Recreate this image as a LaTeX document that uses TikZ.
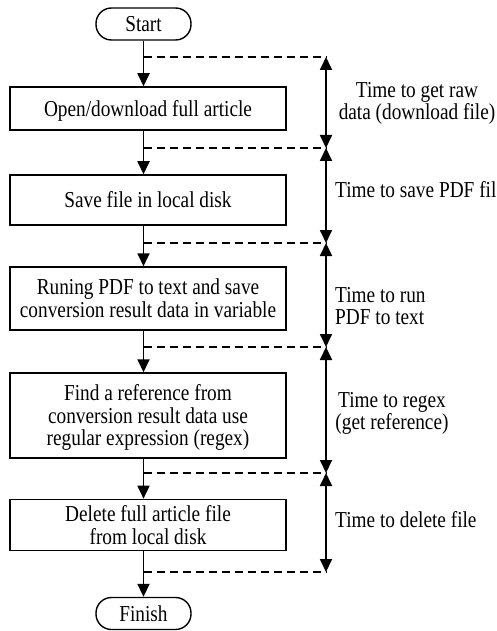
\documentclass[tikz,border=0pt]{standalone}
\usepackage{fontspec}
\setmainfont{Liberation Serif}
\usetikzlibrary{arrows.meta}
\newcommand\tc[1]{\raisebox{0pt}[\dimexpr\height+6pt\relax][\depth]{\scalebox{1}[1.18]{\begin{tabular}{@{}c@{}}#1\end{tabular}}}}
\newcommand\tl[1]{\raisebox{0pt}[\dimexpr\height+6pt\relax][\depth]{\scalebox{1}[1.18]{\begin{tabular}{@{}l@{}}#1\end{tabular}}}}
\begin{document}
\begin{tikzpicture}[x=1pt,y=-1pt,
  every node/.style={font=\fontsize{19.3}{18.5}\selectfont},
  term/.style={draw,line width=1.4pt,rounded corners=15.5pt,minimum width=95pt,minimum height=32pt,inner sep=0pt},
  proc/.style={draw,line width=1.5pt,minimum width=276pt,inner sep=0pt,align=center},
  flow/.style={line width=1.8pt,-{Triangle[width=12pt,length=13pt]}},
  meas/.style={line width=1.8pt,{Triangle[width=12pt,length=13pt]}-{Triangle[width=12pt,length=13pt]}},
  dashline/.style={line width=1.4pt,dash pattern=on 8pt off 5pt},
  lbl/.style={anchor=west,inner sep=0pt}]
\useasboundingbox (0,0) rectangle (497,631);
\node[term] (start) at (143.5,24) {\tc{Start}};
\node[proc,minimum height=43pt] (b1) at (148,108.5) {\tc{Open/download full article}};
\node[proc,minimum height=50pt] (b2) at (148,200) {\tc{Save file in local disk}};
\node[proc,minimum height=63pt] (b3) at (148,298.5) {\tc{Runing PDF to text and save\\conversion result data in variable}};
\node[proc,minimum height=85pt] (b4) at (148,415.5) {\tc{Find a reference from\\conversion result data use\\regular expression (regex)}};
\node[proc,minimum height=44pt] (b5) at (148,525) {\tc{Delete full article file\\from local disk}};
\node[term] (finish) at (143.5,613.5) {\tc{Finish}};
\coordinate (d1) at (326,57);
\coordinate (d2) at (326,148);
\coordinate (d3) at (326,243);
\coordinate (d4) at (326,347);
\coordinate (d5) at (326,473);
\coordinate (d6) at (326,572);
\draw[flow] (start.south) -- (b1.north -| start);
\draw[flow] (b1.south -| start) -- (b2.north -| start);
\draw[flow] (b2.south -| start) -- (b3.north -| start);
\draw[flow] (b3.south -| start) -- (b4.north -| start);
\draw[flow] (b4.south -| start) -- (b5.north -| start);
\draw[flow] (b5.south -| start) -- (finish.north);
\foreach \dd in {d1,d2,d3,d4,d5,d6} \draw[dashline] (start |- \dd) -- (\dd);
\draw[meas] (d1) -- (d2);
\draw[meas] (d2) -- (d3);
\draw[meas] (d3) -- (d4);
\draw[meas] (d4) -- (d5);
\draw[meas] (d5) -- (d6);
\node[inner sep=0pt] (l1) at (417,101) {\tc{Time to get raw\\data (download file)}};
\node[lbl] (l2) at (335,190) {\tl{Time to save PDF fil}};
\node[lbl] (l3) at (335,306) {\tl{Time to run\\PDF to text}};
\node[inner sep=0pt] (l4) at (392,411) {\tc{Time to regex\\(get reference)}};
\node[lbl] (l5) at (335,520) {\tl{Time to delete file}};
\end{tikzpicture}
\end{document}
